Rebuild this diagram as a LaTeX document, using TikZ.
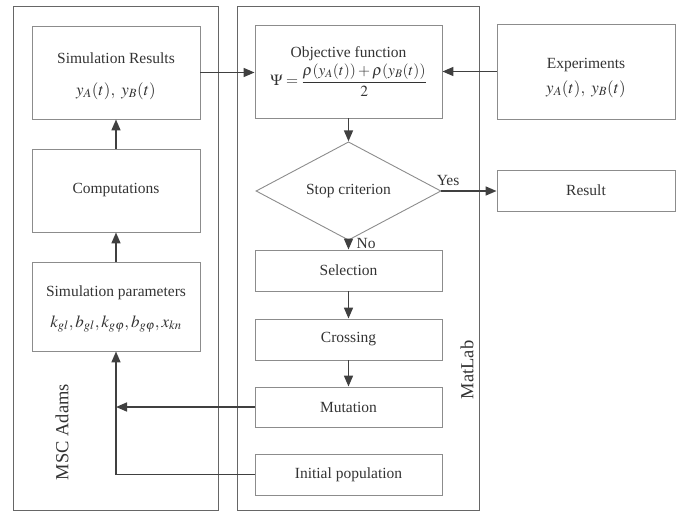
\documentclass[tikz,border=0pt]{standalone}
\usepackage{amsmath}
\usepackage{mathptmx}
\usepackage[no-math]{fontspec}
\setmainfont{Liberation Serif}
\usepackage{tikz}
\usetikzlibrary{positioning,arrows.meta,shapes,calc}

\begin{document}
\begin{tikzpicture}[
  x=1pt,y=-1pt,
  font=\fontsize{15.5}{19}\selectfont,
  text=black!80,
  procnode/.style={rectangle,draw=black!45,line width=0.9pt,inner sep=2pt,align=center,minimum width=#1},
  procnode/.default=187pt,
  decnode/.style={diamond,draw=black!45,line width=0.9pt,inner sep=0pt,minimum width=185pt,minimum height=79pt},
  group/.style={rectangle,draw=black!60,line width=1pt,inner sep=0pt},
  flow/.style={draw=black!75,line width=1.6pt,-{Triangle[length=11pt,width=9pt]}},
  side/.style={font=\fontsize{18.5}{22}\selectfont,rotate=90},
  mathtxt/.style={font=\fontsize{17}{20}\selectfont},
]
\useasboundingbox (0,0) rectangle (684,511);

% ==== MSC ADAMS (left column) ====
\node[group,minimum width=205pt,minimum height=503pt] (adams) at (115.5,258.5) {};
\node[side] (adamslbl) at (62,432) {MSC Adams};

\node[procnode=168pt,minimum height=93pt] (simres) at (116,72.5) {};
\node (simrestitle) at (116,58) {Simulation Results};
\node[mathtxt] (simresmath) at (116,91) {$y_{A}(t),\ y_{B}(t)$};
\node[procnode=168pt,minimum height=83pt] (comp) at (116,190.5) {Computations};
\node[procnode=168pt,minimum height=89pt] (simpar) at (116,306.5) {};
\node (simpartitle) at (116,293) {Simulation parameters};
\node[mathtxt] (simparmath) at (116,324) {$k_{gl},b_{gl},k_{g\varphi},b_{g\varphi},x_{kn}$};

% ==== MATLAB (middle column) ====
\node[group,minimum width=242pt,minimum height=503pt] (matlab) at (358,258.5) {};
\node[side] (matlablbl) at (467,370) {MatLab};

\node[procnode,minimum height=93pt] (objfun) at (348.5,71.5) {Objective function\\[2pt]$\Psi=\dfrac{\rho(y_{A}(t))+\rho(y_{B}(t))}{2}$};
\node[decnode] (stop) at (348.5,191) {Stop criterion};
\node[procnode,minimum height=41pt] (select) at (348.5,270.5) {Selection};
\node[procnode,minimum height=41pt] (cross) at (348.5,339.5) {Crossing};
\node[procnode,minimum height=40pt] (mutat) at (348.5,407) {Mutation};
\node[procnode,minimum height=41pt] (initpop) at (348.5,474.5) {Initial population};

% ==== OUTSIDE (right column) ====
\node[procnode=178pt,minimum height=95pt] (exper) at (586,71.5) {};
\node (expertitle) at (586,65) {Experiments};
\node[mathtxt] (expermath) at (586,89) {$y_{A}(t),\ y_{B}(t)$};
\node[procnode=178pt,minimum height=41pt] (result) at (586,190.5) {Result};

% Flow arrows
\draw[flow] (simpar.north) -- (comp.south);
\draw[flow] (comp.north) -- (simres.south);
\draw[flow] (simres.east) -- (objfun.west|-simres.east);
\draw[flow] (exper.west) -- (objfun.east|-exper.west);
\draw[flow] (objfun.south) -- (stop.north);
\draw[flow] (stop.east) -- node[above,pos=0.12,yshift=1pt] {Yes} (result.west|-stop.east);
\draw[flow] (stop.south) -- node[right,pos=0.35,xshift=4pt] {No} (select.north);
\draw[flow] (select.south) -- (cross.north);
\draw[flow] (cross.south) -- (mutat.north);

% Loop back to MSC Adams
\draw[flow] (mutat.west) -- (mutat.west-|simpar.south);
\draw[flow] (initpop.west) -| (simpar.south);

\end{tikzpicture}
\end{document}
